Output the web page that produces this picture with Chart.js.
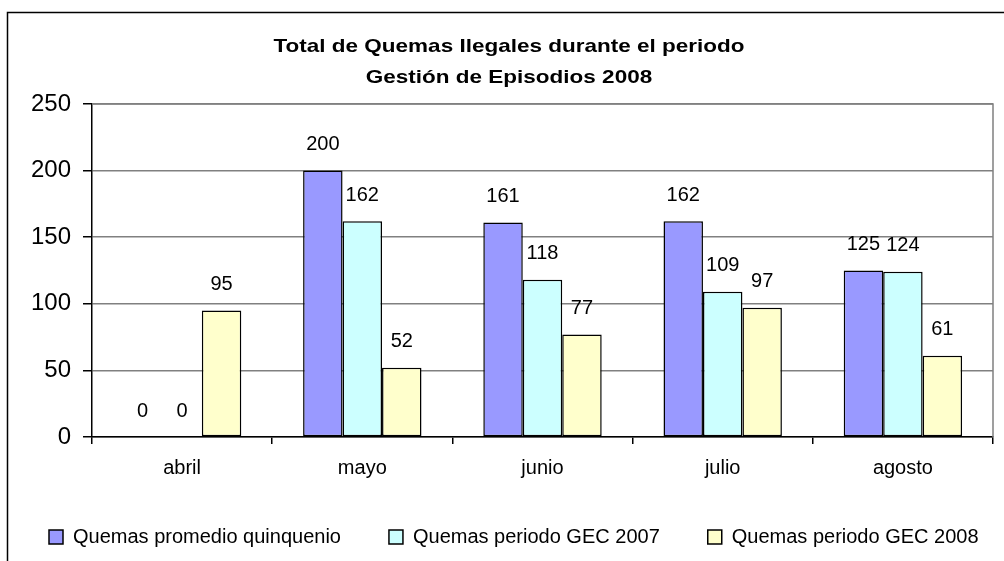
<!DOCTYPE html>
<html>
<head>
<meta charset="utf-8">
<script src="https://cdn.jsdelivr.net/npm/chart.js@4"></script>
<style>
  html, body { margin: 0; padding: 0; background: #fff; }
  #wrap { width: 1004px; height: 561px; }
</style>
</head>
<body>
<div id="wrap"><canvas id="grafico" width="1004" height="561"></canvas></div>
<script>
// Datos del gráfico
const meses = ['abril', 'mayo', 'junio', 'julio', 'agosto'];
const promedioQuinquenio = [0, 200, 161, 162, 125];
const periodoGec2007 = [0, 162, 118, 109, 124];
const periodoGec2008 = [95, 52, 77, 97, 61];
const tituloLineas = ['Total de Quemas Ilegales durante el periodo', 'Gestión de Episodios 2008'];

const FUENTE = 'Arial, "Liberation Sans", sans-serif';

// Marco exterior, título, borde del área y etiquetas de valores
const extras = {
  id: 'extras',
  afterLayout(chart) {
    // dejar que la leyenda quepa en una sola línea
    if (chart.legend) chart.legend.right = chart.width + 200;
  },
  beforeDraw(chart) {
    const ctx = chart.ctx;
    ctx.save();
    ctx.fillStyle = '#fff';
    ctx.fillRect(0, 0, chart.width, chart.height);
    ctx.strokeStyle = '#000';
    ctx.lineWidth = 1.5;
    ctx.strokeRect(7.5, 12.5, 1100, 700);
    // título (algo achatado, como en el original)
    ctx.fillStyle = '#000';
    ctx.font = 'bold 22.5px ' + FUENTE;
    ctx.textAlign = 'center';
    ctx.textBaseline = 'middle';
    tituloLineas.forEach((t, i) => {
      ctx.save();
      ctx.translate(509, 47 + i * 31);
      ctx.scale(1, 0.8);
      ctx.fillText(t, 0, 0);
      ctx.restore();
    });
    ctx.restore();
  },
  beforeDatasetsDraw(chart) {
    const ctx = chart.ctx;
    const a = chart.chartArea;
    ctx.save();
    ctx.strokeStyle = '#808080';
    ctx.lineWidth = 1.5;
    ctx.beginPath();
    ctx.moveTo(a.left, a.top);
    ctx.lineTo(a.right, a.top);
    ctx.lineTo(a.right, a.bottom);
    ctx.stroke();
    ctx.restore();
  },
  afterDatasetsDraw(chart) {
    const ctx = chart.ctx;
    ctx.save();
    ctx.font = '20px ' + FUENTE;
    ctx.fillStyle = '#000';
    ctx.textAlign = 'center';
    ctx.textBaseline = 'middle';
    chart.data.datasets.forEach((ds, i) => {
      chart.getDatasetMeta(i).data.forEach((bar, j) => {
        ctx.fillText(String(ds.data[j]), bar.x, bar.y - 26);
      });
    });
    ctx.restore();
  }
};

const ctx = document.getElementById('grafico').getContext('2d');
new Chart(ctx, {
  type: 'bar',
  data: {
    labels: meses,
    datasets: [
      { label: 'Quemas promedio quinquenio', data: promedioQuinquenio, backgroundColor: '#9999FF' },
      { label: 'Quemas periodo GEC 2007', data: periodoGec2007, backgroundColor: '#CCFFFF' },
      { label: 'Quemas periodo GEC 2008', data: periodoGec2008, backgroundColor: '#FFFFCC' }
    ].map(d => Object.assign(d, {
      borderColor: '#000',
      borderWidth: 1.5,
      borderSkipped: false,
      categoryPercentage: 0.657,
      barPercentage: 1.0
    }))
  },
  options: {
    responsive: false,
    animation: false,
    layout: { padding: { top: 104, left: 1, right: 11, bottom: 0 } },
    plugins: {
      tooltip: { enabled: false },
      title: { display: false },
      legend: {
        position: 'bottom',
        align: 'start',
        maxHeight: 82,
        labels: {
          color: '#000',
          font: { family: FUENTE, size: 20 },
          boxWidth: 14,
          boxHeight: 14,
          padding: 48,
          generateLabels(chart) {
            return chart.data.datasets.map((ds, i) => ({
              text: ds.label,
              fillStyle: ds.backgroundColor,
              strokeStyle: '#000',
              lineWidth: 1.5,
              datasetIndex: i,
              fontColor: '#000'
            }));
          }
        }
      }
    },
    scales: {
      x: {
        grid: { drawOnChartArea: false, color: '#000', tickLength: 7, lineWidth: 1.5 },
        border: { color: '#000', width: 1.5 },
        ticks: { color: '#000', font: { family: FUENTE, size: 20 }, padding: 12 },
        afterFit(scale) { scale.height = 42; }
      },
      y: {
        min: 0,
        max: 250,
        grid: { color: '#808080', tickColor: '#000', tickLength: 9, lineWidth: 1.5 },
        border: { color: '#000', width: 1.5 },
        ticks: { stepSize: 50, color: '#000', font: { family: FUENTE, size: 24 }, padding: 12 },
        afterFit(scale) { scale.width = 91; }
      }
    }
  },
  plugins: [extras]
});
</script>
</body>
</html>
